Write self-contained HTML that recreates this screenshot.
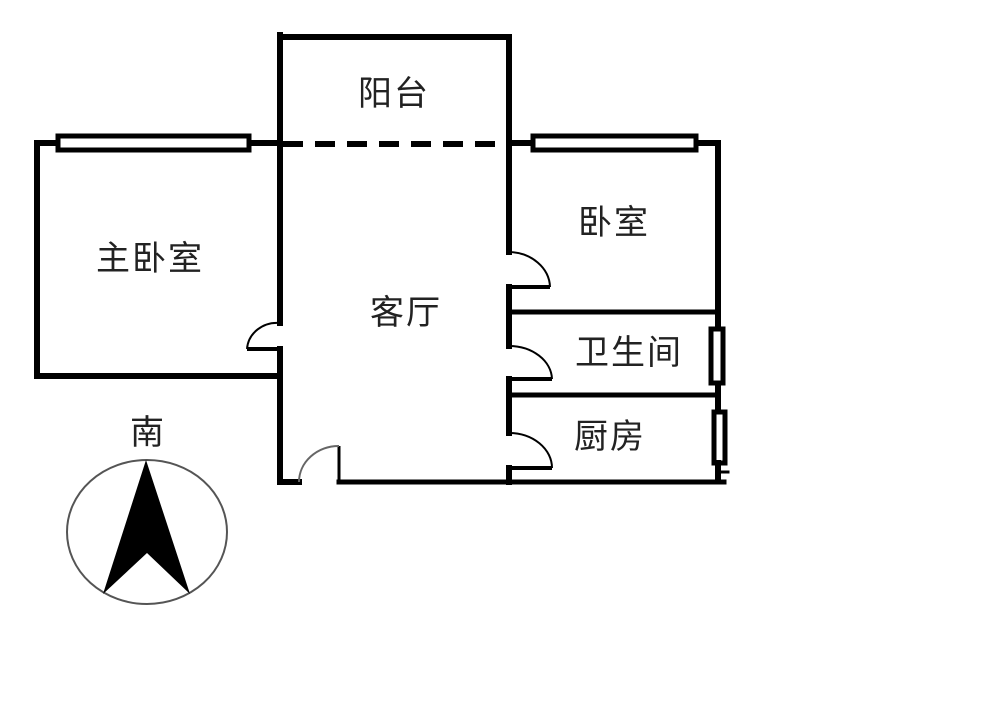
<!DOCTYPE html>
<html><head><meta charset="utf-8"><style>
html,body{margin:0;padding:0;background:#fff;}
svg{display:block}
text{font-family:"Liberation Sans","Noto Sans CJK SC",sans-serif;font-size:34px;fill:#222;letter-spacing:2px;}
</style></head><body>
<svg width="1000" height="721" viewBox="0 0 1000 721" xmlns="http://www.w3.org/2000/svg">
<g stroke="#000" stroke-width="6" fill="none" stroke-linecap="square">
<polyline points="56,143 37,143 37,376 280,376"/>
<line x1="251" y1="143" x2="280" y2="143"/>
<rect x="58" y="136" width="191" height="14" stroke-width="5"/>
<line x1="280" y1="35" x2="280" y2="323"/>
<line x1="280" y1="349" x2="280" y2="482"/>
<line x1="280" y1="37" x2="509" y2="37"/>
<line x1="509" y1="37" x2="509" y2="252"/>
<line x1="509" y1="287" x2="509" y2="346"/>
<line x1="509" y1="379" x2="509" y2="433"/>
<line x1="509" y1="468" x2="509" y2="482"/>
<line x1="280" y1="482" x2="299" y2="482"/>
<line x1="339" y1="482" x2="724" y2="482" stroke-width="5"/>
<line x1="509" y1="143" x2="532" y2="143"/>
<rect x="533" y="136" width="163" height="14" stroke-width="5"/>
<polyline points="697,143 718,143 718,327"/>
<line x1="718" y1="385" x2="718" y2="410"/>
<rect x="711" y="329" width="12" height="54" stroke-width="5"/>
<rect x="714" y="412" width="11" height="51" stroke-width="5"/>
<line x1="718" y1="463" x2="718" y2="478"/>
<line x1="718" y1="472" x2="728" y2="472" stroke-width="3"/>
<line x1="509" y1="312" x2="718" y2="312" stroke-width="5"/>
<line x1="509" y1="395" x2="718" y2="395" stroke-width="5"/>
</g>
<line x1="283" y1="144" x2="507" y2="144" stroke="#000" stroke-width="6" stroke-dasharray="20,12"/>
<g stroke="#000" fill="none">
<line x1="280" y1="349" x2="247" y2="349" stroke-width="4"/>
<path d="M247,349 A30,28 0 0 1 280,323" stroke-width="2"/>
<line x1="509" y1="287" x2="550" y2="287" stroke-width="4"/>
<path d="M509,252 A42,36 0 0 1 550,287" stroke-width="2"/>
<line x1="509" y1="379" x2="552" y2="379" stroke-width="4"/>
<path d="M509,346 A43,34 0 0 1 552,379" stroke-width="2"/>
<line x1="509" y1="468" x2="552" y2="468" stroke-width="4"/>
<path d="M509,433 A43,35 0 0 1 552,468" stroke-width="2"/>
<line x1="339" y1="446" x2="339" y2="482" stroke-width="3"/>
<path d="M339,446 A40,36 0 0 0 299,482" stroke="#666" stroke-width="2"/>
</g>
<ellipse cx="147" cy="532" rx="80" ry="72" fill="none" stroke="#555" stroke-width="2"/>
<polygon points="146,460 103,594 147,553 190,594" fill="#000"/>
<text x="148" y="444" text-anchor="middle">南</text>
<text x="150" y="270" text-anchor="middle">主卧室</text>
<text x="394" y="105" text-anchor="middle">阳台</text>
<text x="406" y="324" text-anchor="middle">客厅</text>
<text x="614" y="234" text-anchor="middle">卧室</text>
<text x="629" y="364" text-anchor="middle">卫生间</text>
<text x="610" y="448" text-anchor="middle">厨房</text>
</svg>
</body></html>
